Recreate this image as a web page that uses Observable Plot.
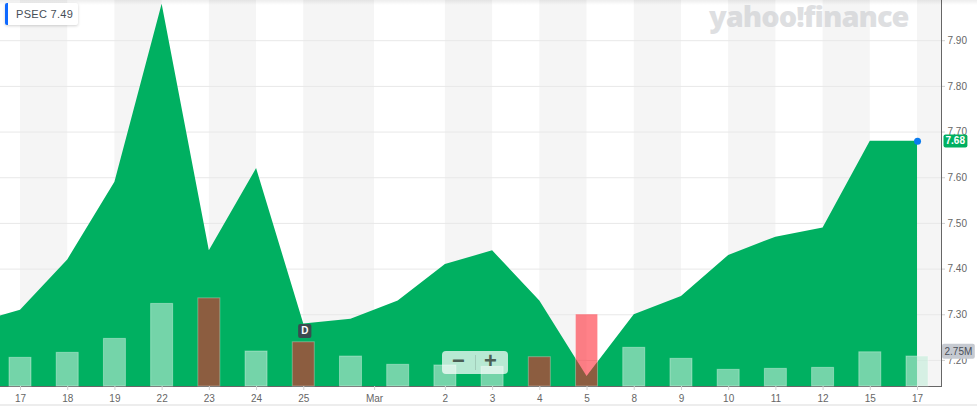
<!DOCTYPE html>
<html><head><meta charset="utf-8">
<script src="https://cdn.jsdelivr.net/npm/d3@7"></script>
<script src="https://cdn.jsdelivr.net/npm/@observablehq/plot@0.6"></script>
<style>
body{margin:0;background:#fff;}
#wrap{position:relative;width:977px;height:408px;overflow:hidden;font-family:"Liberation Sans",Arial,sans-serif;}
#wrap svg{position:absolute;left:0;top:0;}
#topshade{position:absolute;left:0;top:0;width:977px;height:5px;background:linear-gradient(rgba(0,0,0,0.07),rgba(0,0,0,0));pointer-events:none;}
#botline{position:absolute;left:0;top:404px;width:977px;height:2px;background:#ededed;}
#ticker{position:absolute;left:5px;top:3px;height:22px;padding:0 5px 0 8px;background:#fff;border-left:3px solid #0f69ff;border-radius:2px;box-shadow:0 1px 3px rgba(0,0,0,0.18);font-size:11px;line-height:22px;color:#464e56;letter-spacing:0.3px;}
#logo{position:absolute;left:709px;top:1px;line-height:30px;height:32px;font-family:"Open Sans",sans-serif;font-weight:800;font-size:29px;letter-spacing:-1px;color:rgba(200,202,206,0.6);white-space:nowrap;}
#zoomctl{position:absolute;left:442px;top:351px;width:66px;height:23px;background:rgba(255,255,255,0.72);border-radius:4px;}
#zoomctl span{position:absolute;top:-3px;font-size:22px;font-weight:bold;color:#4b5f55;}
#zoomctl .sep{position:absolute;left:33px;top:4px;width:1px;height:15px;background:rgba(0,0,0,0.12);}
</style></head><body><div id="wrap"></div>
<script>
// trading-day index (−1 = previous session, partly off the left edge)
const dayIndex = [-1, 0, 1, 2, 3, 4, 5, 6, 7, 8, 9, 10, 11, 12, 13, 14, 15, 16, 17, 18, 19];
const closes   = [7.28, 7.31, 7.42, 7.59, 7.98, 7.44, 7.62, 7.28, 7.29, 7.33, 7.41, 7.44, 7.33, 7.165, 7.30, 7.34, 7.43, 7.47, 7.49, 7.68, 7.68];
// volume in millions, for day index 0..19
const volumes  = [2.63, 3.09, 4.37, 7.58, 8.09, 3.21, 4.06, 2.75, 1.99, 1.93, 1.80, 2.69, 6.60, 3.55, 2.54, 1.53, 1.62, 1.71, 3.14, 2.75];
const tickPos    = [0, 1, 2, 3, 4, 5, 6, 7.5, 9, 10, 11, 12, 13, 14, 15, 16, 17, 18, 19];
const tickLabels = ["17", "18", "19", "22", "23", "24", "25", "Mar", "2", "3", "4", "5", "8", "9", "10", "11", "12", "15", "17"];
const priceTicks = [7.2, 7.3, 7.4, 7.5, 7.6, 7.7, 7.8, 7.9];
const lastPrice = 7.68;
const lastVolumeLabel = "2.75M";
const dividendDay = 6;
const tickerText = "PSEC 7.49";

const xDomain = [-0.4236, 19.508];
const yDomain = [7.143, 7.988];
const yMin = yDomain[0];
const volToPrice = 10.9 / 457; // price units per million shares (volume pane scaling)

const priceData = dayIndex.map((i, k) => ({i, p: closes[k]}));
const volData = volumes.map((v, k) => ({i: k, v, down: closes[k + 1] < closes[k]}));
const labelMap = new Map(tickPos.map((t, k) => [t, tickLabels[k]]));
const bands = [];
for (let k = 0; k < tickPos.length; k += 2) bands.push({a: tickPos[k], b: k + 1 < tickPos.length ? tickPos[k + 1] : xDomain[1]});
const halfBar = 0.233;

const plot = Plot.plot({
  width: 977, height: 408,
  marginLeft: 0, marginRight: 36, marginTop: 0, marginBottom: 22,
  style: {fontFamily: '"Liberation Sans", Arial, sans-serif', fontSize: "10px", color: "#666", background: "transparent"},
  x: {domain: xDomain, ticks: tickPos, tickFormat: d => labelMap.get(d), tickSize: 4, tickPadding: 4, line: true, label: null},
  y: {domain: yDomain, axis: "right", ticks: priceTicks, tickFormat: ".2f", tickSize: 3, tickPadding: 3, line: true, label: null},
  marks: [
    Plot.rect(bands, {x1: "a", x2: "b", y1: yDomain[0], y2: yDomain[1], fill: "#f5f5f5"}),
    Plot.ruleY(priceTicks, {stroke: "#e8e8e8", strokeWidth: 1}),
    Plot.areaY(priceData, {x: "i", y1: yMin, y2: "p", fill: "#00b061", clip: true}),
    Plot.rect(volData.filter(d => !d.down), {x1: d => d.i - halfBar, x2: d => d.i + halfBar, y1: yMin, y2: d => yMin + d.v * volToPrice, fill: "#c2edd9", fillOpacity: 0.6, stroke: "#ffffff", strokeOpacity: 0.35}),
    Plot.rect(volData.filter(d => d.down), {x1: d => d.i - halfBar, x2: d => d.i + halfBar, y1: yMin, y2: d => yMin + d.v * volToPrice, fill: "#ff1a26", fillOpacity: 0.55, stroke: "#ffffff", strokeOpacity: 0.3}),
    Plot.dot([priceData[priceData.length - 1]], {x: "i", y: "p", r: 3.5, fill: "#0a7cf0"}),
    Plot.text([lastPrice], {x: xDomain[1], y: d => d, text: d => d.toFixed(2), textAnchor: "start", dx: 4, fill: "#fff", fontWeight: "bold", fontSize: 10, ariaLabel: () => "tag-price"}),
    Plot.text([volData[volData.length - 1]], {x: xDomain[1], y: d => yMin + d.v * volToPrice, text: () => lastVolumeLabel, textAnchor: "start", dx: 3, dy: -5, fill: "#4a4f58", fontSize: 10, ariaLabel: () => "tag-vol"}),
    Plot.text([volData[dividendDay]], {x: "i", y: d => yMin + d.v * volToPrice, text: () => "D", dy: -11, dx: 1, fill: "#fff", fontWeight: "bold", fontSize: 10, ariaLabel: () => "tag-div"})
  ]
});

const wrap = document.getElementById("wrap");
wrap.appendChild(plot);

function tagBoxes(label, fill, padX, padY) {
  plot.querySelectorAll(`g[aria-label="${label}"] text, text[aria-label="${label}"]`).forEach(t => {
    const b = t.getBBox();
    const r = document.createElementNS("http://www.w3.org/2000/svg", "rect");
    r.setAttribute("x", b.x - padX);
    r.setAttribute("y", b.y - padY);
    r.setAttribute("width", b.width + 2 * padX);
    r.setAttribute("height", b.height + 2 * padY);
    r.setAttribute("rx", 2);
    r.setAttribute("fill", fill);
    if (t.getAttribute("transform")) r.setAttribute("transform", t.getAttribute("transform"));
    t.parentNode.insertBefore(r, t);
  });
}
tagBoxes("tag-price", "#00b061", 2, 1);
tagBoxes("tag-vol", "#c6cad1", 2.5, 2);
tagBoxes("tag-div", "#3b4b50", 3, 1.5);

// axis styling
plot.querySelectorAll('g[aria-label^="x-axis"] line, g[aria-label^="x-axis"] path, g[aria-label^="y-axis"] line, g[aria-label^="y-axis"] path').forEach(e => { e.setAttribute("stroke", "#cfcfcf"); e.style.stroke = "#cfcfcf"; });

const extra = document.createElement("div");
extra.innerHTML = `<div id="topshade"></div><div id="botline"></div>
<div id="logo">yahoo!finance</div>
<div id="ticker">${tickerText}</div>
<div id="zoomctl"><span style="left:10px">−</span><div class="sep"></div><span style="left:42px">+</span></div>`;
while (extra.firstChild) wrap.appendChild(extra.firstChild);
</script>
</body></html>
